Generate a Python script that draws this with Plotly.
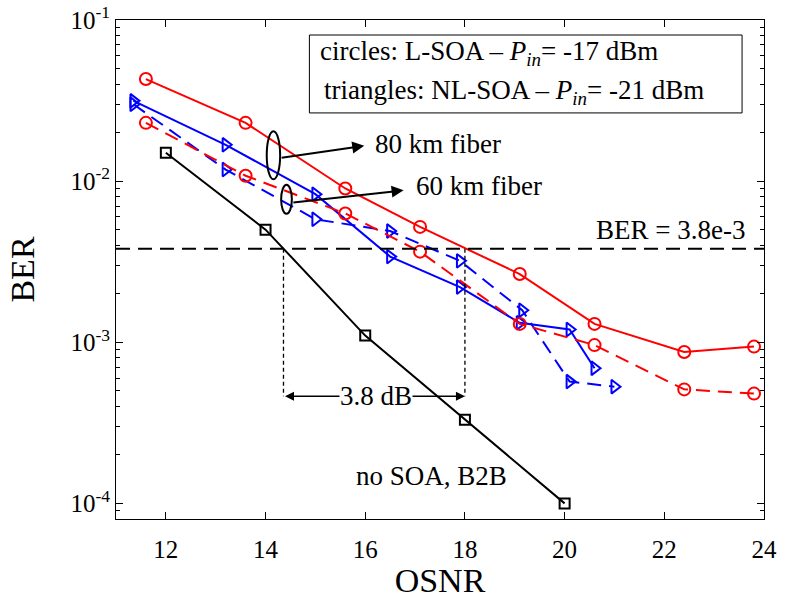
import math
import plotly.graph_objects as go

# ---- measured BER vs OSNR ----
osnr_b2b = [12, 14, 16, 18, 20]
ber_b2b = [1.5e-2, 5.0e-3, 1.1e-3, 3.3e-4, 1.0e-4]

osnr_lsoa = [11.6, 13.6, 15.6, 17.1, 19.1, 20.6, 22.4, 23.8]
ber_lsoa_80km = [4.3e-2, 2.3e-2, 9.0e-3, 5.2e-3, 2.65e-3, 1.3e-3, 8.7e-4, 9.4e-4]
ber_lsoa_60km = [2.3e-2, 1.08e-2, 6.3e-3, 3.65e-3, 1.3e-3, 9.6e-4, 5.1e-4, 4.8e-4]

osnr_nlsoa_80km = [11.35, 13.2, 15.0, 16.5, 17.9, 19.1, 20.1, 20.6]
ber_nlsoa_80km = [3.15e-2, 1.68e-2, 8.3e-3, 3.4e-3, 2.2e-3, 1.32e-3, 1.2e-3, 6.9e-4]
osnr_nlsoa_60km = [11.35, 13.2, 15.0, 16.5, 17.9, 19.15, 20.1, 21.0]
ber_nlsoa_60km = [3.0e-2, 1.18e-2, 5.8e-3, 4.9e-3, 3.2e-3, 1.58e-3, 5.7e-4, 5.3e-4]

ber_threshold = 3.8e-3
osnr_b2b_at_threshold = 14.36
osnr_soa_at_threshold = 18.0

x_ticks = [12, 14, 16, 18, 20, 22, 24]
y_ticks = [1e-4, 1e-3, 1e-2, 1e-1]
y_ticktext = ["10<sup>-4</sup>", "10<sup>-3</sup>", "10<sup>-2</sup>", "10<sup>-1</sup>"]

FONT = "Times New Roman, Liberation Serif, serif"
RED = "rgb(255,0,0)"
BLUE = "rgb(0,0,255)"
TXT = dict(family=FONT, size=27, color="black")

fig = go.Figure()


def add_series(x, y, color, dash, symbol, size):
    fig.add_trace(go.Scatter(
        x=x, y=y, mode="lines+markers",
        line=dict(color=color, width=2, dash=dash),
        marker=dict(symbol=symbol, size=size, color=color,
                    line=dict(color=color, width=2)),
        showlegend=False, hoverinfo="x+y",
    ))


add_series(osnr_nlsoa_60km, ber_nlsoa_60km, BLUE, "14px,8px", "triangle-right-open", 12)
add_series(osnr_nlsoa_80km, ber_nlsoa_80km, BLUE, "solid", "triangle-right-open", 12)
add_series(osnr_lsoa, ber_lsoa_60km, RED, "14px,8px", "circle-open", 12)
add_series(osnr_lsoa, ber_lsoa_80km, RED, "solid", "circle-open", 12)
add_series(osnr_b2b, ber_b2b, "black", "solid", "square-open", 10)

lg = math.log10

# ---- FEC threshold line and OSNR penalty markers ----
fig.add_shape(type="line", xref="paper", yref="y", x0=0, x1=1,
              y0=ber_threshold, y1=ber_threshold,
              line=dict(color="black", width=2, dash="14px,8px"))
arrow_ber = 4.62e-4
for xv in (osnr_b2b_at_threshold, osnr_soa_at_threshold):
    fig.add_shape(type="line", xref="x", yref="y", x0=xv, x1=xv,
                  y0=ber_threshold, y1=arrow_ber,
                  line=dict(color="black", width=1.3, dash="4px,3px"))

fig.add_annotation(x=osnr_soa_at_threshold, y=lg(arrow_ber),
                   ax=osnr_b2b_at_threshold, ay=lg(arrow_ber),
                   xref="x", yref="y", axref="x", ayref="y",
                   text="", showarrow=True, arrowhead=2, arrowside="end+start",
                   arrowsize=1.2, arrowwidth=1.5, arrowcolor="black")
fig.add_annotation(x=16.22, y=lg(arrow_ber), xref="x", yref="y",
                   text="3.8 dB", showarrow=False, bgcolor="white", borderpad=0,
                   font=TXT)

fig.add_annotation(x=22.12, y=-2.304, xref="x", yref="y",
                   text="BER = 3.8e-3", showarrow=False, font=TXT)
fig.add_annotation(x=17.33, y=-3.83, xref="x", yref="y",
                   text="no SOA, B2B", showarrow=False, font=TXT)

# ---- fiber length callouts ----
fig.add_shape(type="circle", xref="x", yref="y", x0=14.024, x1=14.293,
              y0=0.01026, y1=0.02038, line=dict(color="black", width=2))
fig.add_shape(type="circle", xref="x", yref="y", x0=14.313, x1=14.528,
              y0=0.00627, y1=0.00948, line=dict(color="black", width=2))
for tail, head in (((14.293, -1.856), (15.98, -1.781)),
                   ((14.528, -2.133), (16.77, -2.057))):
    fig.add_annotation(x=head[0], y=head[1], ax=tail[0], ay=tail[1],
                       xref="x", yref="y", axref="x", ayref="y",
                       text="", showarrow=True, arrowhead=2, arrowsize=1.2,
                       arrowwidth=2, arrowcolor="black")
fig.add_annotation(x=16.16, y=-1.769, xref="x", yref="y", xanchor="left",
                   text="80 km fiber", showarrow=False, font=TXT)
fig.add_annotation(x=16.98, y=-2.029, xref="x", yref="y", xanchor="left",
                   text="60 km fiber", showarrow=False, font=TXT)

# ---- marker key box ----
fig.add_shape(type="rect", xref="x", yref="y", x0=14.88, x1=23.56,
              y0=0.0265, y1=0.0807, line=dict(color="black", width=1),
              fillcolor="white", layer="below")
fig.add_annotation(x=15.056, y=-1.205, xref="x", yref="y", xanchor="left",
                   text="circles: L-SOA \u2013 <i>P<sub>in</sub></i>= -17 dBm",
                   showarrow=False, font=TXT)
fig.add_annotation(x=15.137, y=-1.446, xref="x", yref="y", xanchor="left",
                   text="triangles: NL-SOA \u2013 <i>P<sub>in</sub></i>= -21 dBm",
                   showarrow=False, font=TXT)

minor_vals = [m * 10.0 ** e for e in (-5, -4, -3, -2) for m in range(2, 10)]

axis_common = dict(showline=True, linecolor="black", linewidth=1, mirror="allticks",
                   ticks="inside", ticklen=7, tickcolor="black", showgrid=False,
                   zeroline=False, automargin=False,
                   tickfont=dict(family=FONT, size=25, color="black"))

fig.update_xaxes(range=[11, 24], tickvals=x_ticks, ticklabelstandoff=8, **axis_common,
                 title=dict(text="OSNR", font=dict(family=FONT, size=34, color="black"),
                            standoff=6))
fig.update_yaxes(type="log", range=[lg(8e-5), -1], tickvals=y_ticks, ticktext=y_ticktext,
                 minor=dict(tickvals=minor_vals, ticks="inside", ticklen=4,
                            tickcolor="black", showgrid=False),
                 **axis_common,
                 title=dict(text="BER", font=dict(family=FONT, size=34, color="black"),
                            standoff=25))

fig.update_layout(width=785, height=599, plot_bgcolor="white", paper_bgcolor="white",
                  margin=dict(l=116, r=21, t=20, b=80), showlegend=False)

fig.write_html("out.html")
